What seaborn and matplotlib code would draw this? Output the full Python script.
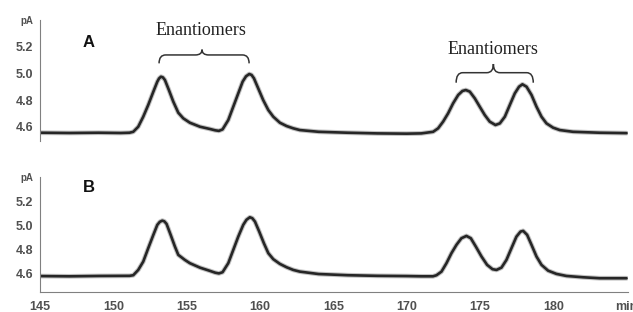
import matplotlib
matplotlib.use("Agg")
import matplotlib.pyplot as plt
from matplotlib.path import Path
from matplotlib.patches import PathPatch
from matplotlib.ticker import MultipleLocator
import seaborn as sns
import pandas as pd

# ---------------- data ----------------
times_a = [145.0, 147.0, 149.0, 150.5, 151.1, 151.36, 151.70, 152.04, 152.38, 152.73, 153.0,
           153.12, 153.25, 153.38, 153.52, 153.79, 154.09, 154.43, 154.77, 155.22, 155.91,
           156.59, 156.95, 157.2, 157.45, 157.84, 158.18, 158.52, 158.82, 159.05, 159.27,
           159.43, 159.59, 159.88, 160.22, 160.57, 160.91, 161.36, 161.82, 162.27, 162.72,
           164.0, 166.0, 168.0, 170.0, 171.0, 171.81, 172.15, 172.49, 172.83, 173.17,
           173.52, 173.81, 174.04, 174.31, 174.65, 174.99, 175.33, 175.67, 176.06, 176.36,
           176.70, 177.04, 177.38, 177.67, 177.90, 178.18, 178.52, 178.86, 179.20, 179.54,
           179.99, 180.45, 181.35, 183.17, 185.0]
signal_a = [4.555, 4.553, 4.555, 4.553, 4.555, 4.562, 4.600, 4.675, 4.763, 4.863, 4.938,
            4.962, 4.975, 4.970, 4.950, 4.875, 4.788, 4.705, 4.663, 4.630, 4.600,
            4.583, 4.573, 4.569, 4.580, 4.650, 4.750, 4.850, 4.938, 4.978, 4.995,
            4.988, 4.963, 4.888, 4.800, 4.725, 4.675, 4.630, 4.605, 4.588, 4.575,
            4.562, 4.555, 4.550, 4.548, 4.550, 4.562, 4.588, 4.638, 4.700, 4.775,
            4.838, 4.868, 4.875, 4.863, 4.813, 4.750, 4.688, 4.638, 4.613, 4.625,
            4.675, 4.763, 4.850, 4.900, 4.918, 4.900, 4.838, 4.750, 4.675, 4.625,
            4.593, 4.575, 4.562, 4.555, 4.552]

times_b = [145.0, 147.0, 149.09, 151.1, 151.36, 151.70, 152.04, 152.38, 152.73, 153.0,
           153.17, 153.34, 153.48, 153.63, 153.91, 154.20, 154.43, 154.88, 155.22, 155.91,
           156.59, 156.95, 157.2, 157.45, 157.84, 158.18, 158.52, 158.86, 159.08, 159.31,
           159.48, 159.66, 159.95, 160.27, 160.57, 160.91, 161.36, 161.82, 162.27, 162.72,
           164.0, 166.0, 168.0, 170.0, 171.0, 171.8, 172.04, 172.38, 172.72, 173.06,
           173.40, 173.74, 174.08, 174.38, 174.72, 175.11, 175.49, 175.86, 176.13, 176.47,
           176.81, 177.15, 177.49, 177.77, 177.95, 178.22, 178.52, 178.86, 179.20, 179.65,
           180.22, 180.90, 182.04, 183.17, 185.0]
signal_b = [4.578, 4.576, 4.579, 4.580, 4.585, 4.629, 4.698, 4.809, 4.920, 5.003,
            5.028, 5.038, 5.032, 5.011, 4.920, 4.823, 4.754, 4.712, 4.685, 4.648,
            4.621, 4.606, 4.600, 4.610, 4.685, 4.795, 4.905, 5.003, 5.045, 5.066,
            5.058, 5.030, 4.947, 4.850, 4.768, 4.718, 4.679, 4.651, 4.629, 4.615,
            4.595, 4.585, 4.580, 4.578, 4.576, 4.576, 4.585, 4.615, 4.685, 4.768,
            4.837, 4.892, 4.911, 4.892, 4.823, 4.740, 4.671, 4.635, 4.629, 4.648,
            4.712, 4.809, 4.905, 4.947, 4.953, 4.920, 4.837, 4.740, 4.671, 4.623,
            4.596, 4.579, 4.568, 4.560, 4.560]

y_ticks = [4.6, 4.8, 5.0, 5.2, 5.4]
y_tick_labels = ["4.6", "4.8", "5.0", "5.2", "pA"]
x_ticks = [145, 150, 155, 160, 165, 170, 175, 180, 185]
x_tick_labels = ["145", "150", "155", "160", "165", "170", "175", "180", "min"]
panel_labels = ["A", "B"]
annotation_text = "Enantiomers"

# ---------------- style ----------------
sns.set_style("white")
plt.rcParams["font.family"] = ["Liberation Sans", "DejaVu Sans"]

W, H = 633, 312
fig = plt.figure(figsize=(W / 100, H / 100), dpi=100)
ax_a = fig.add_axes([40 / W, 1 - 141 / H, 588 / W, 121 / H])
ax_b = fig.add_axes([40 / W, 1 - 291.5 / H, 588 / W, (291.5 - 177) / H])

df_a = pd.DataFrame({"t": times_a, "s": signal_a})
df_b = pd.DataFrame({"t": times_b, "s": signal_b})

spine_col = "#808080"
lab_col = "#505050"

for ax, df in ((ax_a, df_a), (ax_b, df_b)):
    sns.lineplot(data=df, x="t", y="s", ax=ax, color="#9a9a9a", lw=3.4,
                 alpha=0.6, estimator=None, sort=False)
    sns.lineplot(data=df, x="t", y="s", ax=ax, color="#262626", lw=1.9,
                 estimator=None, sort=False)
    for ln in ax.get_lines():
        ln.set_solid_joinstyle("round")
    ax.set_xlim(145, 185.1)
    ax.set_xlabel("")
    ax.set_ylabel("")
    ax.set_facecolor("none")
    for side in ("top", "right"):
        ax.spines[side].set_visible(False)
    ax.spines["left"].set_color(spine_col)
    ax.spines["left"].set_linewidth(0.8)
    ax.set_yticks(y_ticks)
    ax.set_yticklabels(y_tick_labels)
    ax.yaxis.set_minor_locator(MultipleLocator(0.04))
    ax.tick_params(axis="y", which="major", direction="out", length=2.2, width=0.7,
                   color=spine_col, pad=2.8, labelsize=9, labelcolor=lab_col)
    ax.tick_params(axis="y", which="minor", direction="out", length=1.4, width=0.6,
                   color="#a0a0a0")
    for lab in ax.get_yticklabels():
        lab.set_fontweight("bold")
        if lab.get_text() == "pA":
            lab.set_fontsize(7)

ax_a.set_ylim(4.493, 5.40)
ax_b.set_ylim(4.45, 5.40)

# top panel: no x axis
ax_a.spines["bottom"].set_visible(False)
ax_a.set_xticks([])

# bottom panel x axis
ax_b.spines["bottom"].set_color(spine_col)
ax_b.spines["bottom"].set_linewidth(0.8)
ax_b.set_xticks(x_ticks)
ax_b.set_xticklabels(x_tick_labels)
ax_b.xaxis.set_minor_locator(MultipleLocator(1))
ax_b.tick_params(axis="x", which="major", direction="out", length=2, width=0.7,
                 color=spine_col, pad=5, labelsize=9, labelcolor=lab_col)
ax_b.tick_params(axis="x", which="minor", direction="out", length=1.5, width=0.6,
                 color="#a0a0a0")
for lab in ax_b.get_xticklabels():
    lab.set_fontweight("bold")


# ---------------- braces + labels ----------------
def brace(ax, x1, x2, xm, yend, yflat, ytip, r=0.45):
    verts = [(x1, yend), (x1, yflat), (x1 + r, yflat),
             (xm - r, yflat), (xm, yflat), (xm, ytip),
             (xm, yflat), (xm + r, yflat),
             (x2 - r, yflat), (x2, yflat), (x2, yend)]
    codes = [Path.MOVETO, Path.CURVE3, Path.CURVE3,
             Path.LINETO, Path.CURVE3, Path.CURVE3,
             Path.CURVE3, Path.CURVE3,
             Path.LINETO, Path.CURVE3, Path.CURVE3]
    ax.add_patch(PathPatch(Path(verts, codes), fill=False, lw=1.1,
                           edgecolor="#333333", clip_on=False))


brace(ax_a, 153.12, 159.26, 156.05, 5.075, 5.138, 5.178)
brace(ax_a, 173.38, 178.64, 175.92, 4.93, 5.005, 5.07)

fig.text(201 / W, 1 - 35 / H, annotation_text, ha="center", va="baseline",
         fontsize=13, family=["Liberation Serif", "DejaVu Serif"], color="#222222")
fig.text(493 / W, 1 - 54 / H, annotation_text, ha="center", va="baseline",
         fontsize=13, family=["Liberation Serif", "DejaVu Serif"], color="#222222")

fig.text(89 / W, 1 - 46.7 / H, panel_labels[0], ha="center", va="baseline",
         fontsize=12, fontweight="bold", color="#111111")
fig.text(89 / W, 1 - 192 / H, panel_labels[1], ha="center", va="baseline",
         fontsize=12, fontweight="bold", color="#111111")

fig.savefig("out.png", dpi=100)
